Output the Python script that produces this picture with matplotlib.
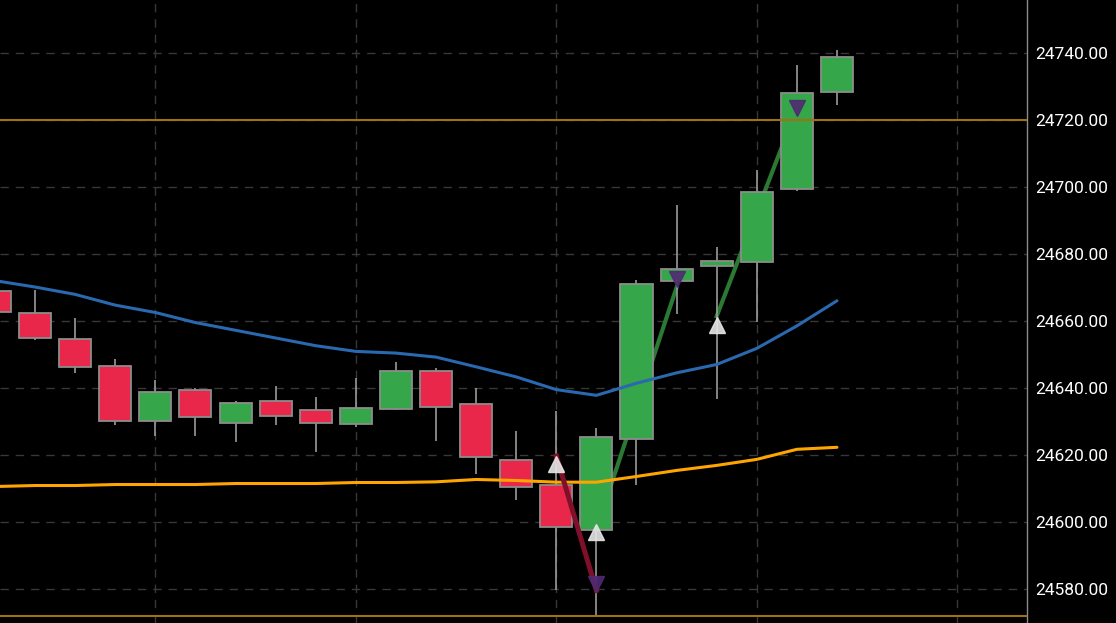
import matplotlib
matplotlib.use("Agg")
import matplotlib.pyplot as plt
import numpy as np

# candle data, one entry per bar
opens  = [24669.0, 24662.6, 24654.6, 24646.6, 24630.2, 24639.4, 24629.7, 24636.2, 24633.5, 24629.3, 24633.9,
          24645.2, 24635.3, 24618.7, 24611.2, 24597.6, 24625.0, 24671.9, 24676.5, 24677.7, 24699.3, 24728.3]
closes = [24662.7, 24654.9, 24646.4, 24630.2, 24638.8, 24631.3, 24635.7, 24631.7, 24629.7, 24634.0, 24645.2,
          24634.3, 24619.6, 24610.7, 24598.6, 24625.5, 24671.2, 24675.7, 24677.9, 24698.4, 24728.2, 24738.7]
highs  = [24671.0, 24669.3, 24661.1, 24648.7, 24642.4, 24640.0, 24636.1, 24640.6, 24637.5, 24643.0, 24647.8,
          24646.0, 24640.2, 24627.3, 24633.1, 24628.1, 24672.4, 24694.8, 24682.2, 24705.0, 24736.4, 24740.9]
lows   = [24662.0, 24654.5, 24644.7, 24629.0, 24625.9, 24625.9, 24624.0, 24629.0, 24621.0, 24628.5, 24633.4,
          24624.2, 24614.3, 24606.8, 24579.7, 24572.4, 24611.3, 24662.3, 24636.7, 24659.8, 24698.9, 24724.4]

ma_slow = [24672.1, 24670.2, 24668.0, 24664.8, 24662.6, 24659.6, 24657.3, 24655.0, 24652.7, 24651.0, 24650.5,
           24649.3, 24646.4, 24643.4, 24639.6, 24637.9, 24641.5, 24644.6, 24647.1, 24651.9, 24658.6, 24666.1]
ma_long = [24610.7, 24611.0, 24611.0, 24611.3, 24611.3, 24611.3, 24611.6, 24611.6, 24611.6, 24611.9, 24611.9,
           24612.1, 24612.8, 24612.5, 24612.0, 24612.0, 24613.7, 24615.5, 24617.0, 24618.8, 24621.8, 24622.4]

# zigzag legs: (start bar, start price, end bar, end price)
down_legs = [(14, 24619.8, 15, 24579.7)]
up_legs = [(15, 24598.0, 17, 24670.1), (18, 24661.5, 20, 24723.6)]

buy_bars = [14, 15, 18]
buy_prices = [24617.5, 24597.1, 24659.0]
sell_bars = [15, 17, 20]
sell_prices = [24581.7, 24672.7, 24723.6]

level_lines = [24720.0, 24572.2]
y_ticks = [24580, 24600, 24620, 24640, 24660, 24680, 24700, 24720, 24740]

UP = "#35a64a"
DOWN = "#e8274b"
EDGE = "#8c8c8c"

fig = plt.figure(figsize=(11.16, 6.23), dpi=100, facecolor="black")
ax = fig.add_axes([0, 0, 1027 / 1116, 1])
ax.set_facecolor("black")

x = np.arange(len(opens))

# up legs sit under the candles
for a, pa, b, pb in up_legs:
    ax.plot([a, b], [pa, pb], color="#2b7a34", lw=3.0, zorder=2)

for i in x:
    o, c, h, l = opens[i], closes[i], highs[i], lows[i]
    col = UP if c >= o else DOWN
    ax.vlines(i, l, h, color="#9a9a9a", lw=1.2, zorder=2.5)
    ax.bar(i, abs(c - o), bottom=min(o, c), width=0.8, color=col,
           edgecolor=EDGE, linewidth=1.3, zorder=3)

ax.plot(x, ma_slow, color="#2a69b0", lw=2.2, zorder=4, solid_capstyle="round")
ax.plot(x, ma_long, color="#ffa500", lw=2.2, zorder=4, solid_capstyle="round")

for lv in level_lines:
    ax.axhline(lv, color="#a0720f", lw=1.5, zorder=5)

for a, pa, b, pb in down_legs:
    ax.plot([a, b], [pa, pb], color="#800f2a", lw=3.6, zorder=6)

ax.plot(buy_bars, buy_prices, linestyle="none", marker="^", ms=11,
        color="#e6e6e6", alpha=0.9, zorder=7)
ax.plot(sell_bars, sell_prices, linestyle="none", marker="v", ms=11,
        color="#4f2a72", alpha=0.9, zorder=7)

ax.set_xlim(0.125, 25.74)
ax.set_ylim(24570.0, 24755.8)
ax.set_xticks([4, 9, 14, 19, 24])
ax.set_yticks(y_ticks)
ax.yaxis.tick_right()
ax.tick_params(axis="y", length=0, pad=6, labelcolor="white")
ax.tick_params(axis="x", length=0, labelbottom=False)
ax.set_yticklabels([f"{v:.2f}" for v in y_ticks], fontfamily="Roboto", fontsize=12.5, color="white")
ax.grid(True, color="#383838", lw=1, linestyle=(0, (6, 5)), zorder=0)
ax.set_axisbelow(True)

for s in ["top", "left", "bottom"]:
    ax.spines[s].set_visible(False)
ax.spines["right"].set_color("#8a8a8a")
ax.spines["right"].set_linewidth(1)

fig.savefig("out.png", dpi=100, facecolor="black")
